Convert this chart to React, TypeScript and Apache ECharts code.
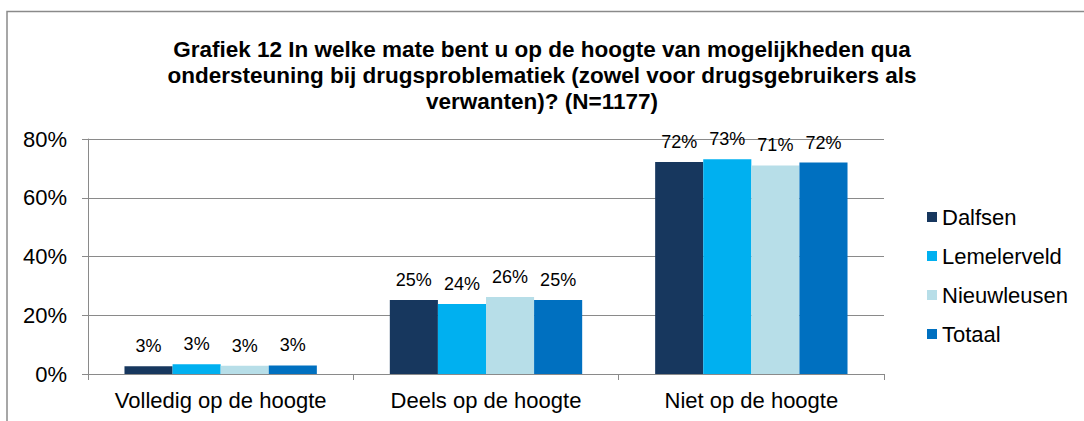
import React, { useEffect, useRef } from "react";
import * as echarts from "echarts";

const categories = ["Volledig op de hoogte", "Deels op de hoogte", "Niet op de hoogte"];
const seriesNames = ["Dalfsen", "Lemelerveld", "Nieuwleusen", "Totaal"];
const dalfsen = [2.6, 25.2, 72.2];
const lemelerveld = [3.3, 23.8, 73.1];
const nieuwleusen = [2.8, 26.2, 71.0];
const totaal = [2.9, 25.2, 72.0];
const colors = ["#17375E", "#00B0F0", "#B7DEE8", "#0070C0"];
const yTicks = { min: 0, max: 80, interval: 20 };
const titleText =
  "Grafiek 12 In welke mate bent u op de hoogte van mogelijkheden qua\nondersteuning bij drugsproblematiek (zowel voor drugsgebruikers als\nverwanten)? (N=1177)";

const FONT = "'Liberation Sans', Arial, sans-serif";

export default function App() {
  const ref = useRef<HTMLDivElement>(null);
  useEffect(() => {
    if (!ref.current) return;
    const chart = echarts.init(ref.current, null, { renderer: "svg" });
    const values = [dalfsen, lemelerveld, nieuwleusen, totaal];
    chart.setOption({
      animation: false,
      backgroundColor: "#fff",
      textStyle: { fontFamily: FONT },
      title: {
        text: titleText,
        left: "center",
        top: 31,
        textStyle: { fontFamily: FONT, fontSize: 22.5, fontWeight: "bold", color: "#000", lineHeight: 26 },
      },
      graphic: [
        {
          type: "rect",
          shape: { x: 7, y: 11.5, width: 1200, height: 600 },
          style: { fill: "none", stroke: "#8a8a8a", lineWidth: 1.5 },
          silent: true,
        },
      ],
      legend: {
        orient: "vertical",
        left: 922,
        top: 201,
        icon: "rect",
        itemWidth: 10,
        itemHeight: 10,
        itemGap: 17,
        textStyle: { fontFamily: FONT, fontSize: 22, color: "#000", lineHeight: 22 },
        data: seriesNames,
      },
      grid: { left: 88, right: 200, top: 139, bottom: 47, containLabel: false },
      xAxis: {
        type: "category",
        data: categories,
        axisLine: { show: true, lineStyle: { color: "#8a8a8a", width: 1 } },
        axisTick: { show: true, length: 6, lineStyle: { color: "#8a8a8a" } },
        axisLabel: { fontFamily: FONT, fontSize: 22, color: "#000", margin: 15, interval: 0, hideOverlap: false },
      },
      yAxis: {
        type: "value",
        min: yTicks.min,
        max: yTicks.max,
        interval: yTicks.interval,
        axisLine: { show: true, lineStyle: { color: "#8a8a8a", width: 1 } },
        axisTick: { show: true, length: 6, lineStyle: { color: "#8a8a8a" } },
        axisLabel: { fontFamily: FONT, fontSize: 22, color: "#000", margin: 21, formatter: "{value}%" },
        splitLine: { show: true, lineStyle: { color: "#8a8a8a", width: 1 } },
      },
      series: seriesNames.map((name, i) => ({
        name,
        type: "bar",
        data: values[i],
        barGap: "0%",
        barCategoryGap: "27.5%",
        itemStyle: { color: colors[i] },
        label: {
          show: true,
          position: "top",
          distance: 11,
          fontFamily: FONT,
          fontSize: 18,
          color: "#000",
          formatter: (p: any) => Math.round(p.value) + "%",
        },
      })),
    });
    return () => chart.dispose();
  }, []);
  return (
    <div
      ref={ref}
      style={{ position: "absolute", left: 0, top: 0, width: 1084, height: 421 }}
    />
  );
}
